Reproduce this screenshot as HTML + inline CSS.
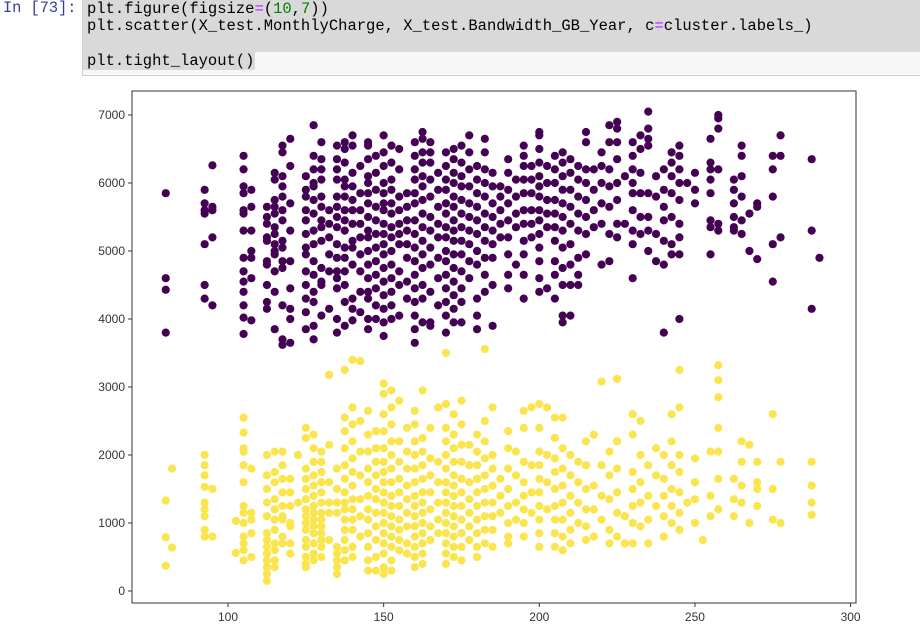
<!DOCTYPE html>
<html><head><meta charset="utf-8"><style>
body{margin:0;width:920px;height:625px;background:#fff;overflow:hidden;position:relative;font-family:"Liberation Sans",sans-serif}
.prompt{position:absolute;left:3px;top:0px;font:15.3px/17.3px "Liberation Mono",monospace;color:#303f9f}
.cell{position:absolute;left:82px;top:-1px;width:840px;height:77px;background:#f7f7f7;border:1px solid #cfcfcf;box-sizing:border-box}
.sel{position:absolute;background:#d9d9d9}
.code{position:absolute;left:87px;top:1px;font:15.5px/17.3px "Liberation Mono",monospace;color:#000;white-space:pre}
.g{color:#008000}.p{color:#aa22ff}
</style></head><body>
<div class="prompt">In [73]:</div>
<div class="cell"></div>
<div class="sel" style="left:83px;top:0;width:837px;height:52px"></div>
<div class="sel" style="left:83px;top:52px;width:172px;height:18px"></div>
<div class="code">plt.figure(figsize<span class="p">=</span>(<span class="g">10</span>,<span class="g">7</span>))
plt.scatter(X_test.MonthlyCharge, X_test.Bandwidth_GB_Year, c<span class="p">=</span>cluster.labels_)

plt.tight_layout()</div>
<svg id="chart" width="920" height="625" style="position:absolute;left:0;top:0"></svg>
<script>
const xTicks=[100,150,200,250,300];
const yTicks=[0,1000,2000,3000,4000,5000,6000,7000];
const purpleX=[80,92.5,95,105,107.5,112.5,115,117.5,120,125,127.5,130,132.5,135,137.5,140,142.5,145,147.5,150,152.5,155,157.5,160,162.5,165,167.5,170,172.5,175,177.5,180,182.5,185,187.5,190,192.5,195,197.5,200,202.5,205,207.5,210,212.5,215,217.5,220,222.5,225,227.5,230,232.5,235,237.5,240,242.5,245,247.5,250,255,257.5,262.5,265,267.5,270,275,277.5,287.5,290];
const purpleY=[[5850,4600,4430,3800],[5900,5700,5600,5100,4500,4300,5550],[6260,5650,5200,4200,5600],[6400,6200,5950,5850,5550,5300,4900,4700,4550,4400,4200,4020,3780,5600],[5900,5650,5300,5000,4600,3980,4900],[5650,5500,5400,5200,5150,4850,4800,4500,4250,4150],[6050,6150,5750,5650,5550,5350,5250,5100,4950,4700,4400,3850,5000],[6550,6450,6100,5950,5800,5600,5450,5150,5050,4850,4750,4200,3620,3700],[6650,6250,5700,5300,4850,4450,4150,3650,4000],[6100,5900,5800,5600,5450,5250,5050,4950,4700,4500,4300,4100,3850],[6850,6400,6200,6000,5950,5750,5550,5300,5100,4850,4650,4400,4250,3900,3700],[6600,6350,6200,6050,5800,5650,5450,5350,5150,4750,4550,4050,4500],[5400,5600,5200,4950,4700,4150],[6550,6350,6200,6050,5800,5650,5500,5350,5100,4900,4700,4600,4450,4000,3800],[6600,6500,6300,6050,5950,5800,5600,5450,5300,5050,4900,4700,4500,4250,3900],[6700,6550,6150,5950,5750,5600,5400,5150,5050,4800,4300,4150,3980],[6250,5850,5600,5400,5200,4950,4700,4400,4100],[6600,6550,6350,6100,6000,5850,5700,5500,5300,5200,5000,4800,4600,4400,4300,4000,3850],[6400,6150,5900,5650,5450,5250,5050,4850,4650,4450,4000,4200],[6700,6450,6250,6000,5850,5700,5600,5400,5250,5100,4950,4750,4550,4350,4150,3950,3750],[6550,6300,6050,5900,5700,5550,5350,5200,5000,4800,4600,4400,4200,4000],[6500,6200,5800,5600,5400,5250,5100,4700,4500,4050],[5850,5650,5450,5300,5100,4900,4550,4300],[6600,6400,6200,6050,5850,5700,5450,5250,5050,4850,4650,4450,4250,4050,3850,3650],[6750,6650,6450,6300,6100,5950,5750,5550,5350,5150,4950,4750,4500,4300,3950],[6600,6450,6300,6050,5800,5500,5300,5050,4800,4400,3900,3950],[6150,5900,5650,5400,5200,4900,4600,4200],[6450,6250,6050,5900,5700,5550,5350,5200,5000,4850,4650,4450,4250,4050,3800],[6500,6350,6150,6000,5800,5650,5450,5300,5150,4950,4750,4550,4350,4150,3950],[6550,6300,6100,5950,5750,5550,5350,5150,4950,4700,4450,4250,3950],[6700,6450,6200,5950,5700,5500,5300,5100,4850,4600],[6250,6050,5850,5650,5450,5250,5000,4800,4300,4050,3850],[6650,6450,6200,6000,5800,5550,5350,5150,4900,4650,4400],[6150,5950,5700,5500,5300,5100,4900,4500,3900],[5950,5800,5600,5400,5200],[6350,6150,5900,5700,5450,5200,4950,4650,4450],[6050,5800,5550,5350,4800],[6550,6400,6250,6050,5850,5600,5400,5150,4950,4650,4300],[6250,6050,5850,5600,5400,5200],[6750,6700,6500,6300,6100,5950,5800,5600,5450,5250,5050,4850,4600,4400],[6250,6000,5750,5550,5350,4450],[6400,6200,6000,5750,5550,5350,5150,4850,4650,4300],[6450,6300,6100,5900,5700,5500,5300,5050,4750,4500,4050,3950],[6350,6150,5900,5650,5400,5100,4800,4500,4050],[6250,6050,5800,5550,5300,4900,4650,4500],[6750,6600,6200,6000,5750,5500,5250,4950],[6200,5900,5600,5350],[6450,6250,6000,5700,5400,4800],[6850,6600,6200,5950,5650,5250,4850],[6900,6800,6600,6350,6000,5750,5400,5200],[6100,5400],[6600,6400,6200,6000,5850,5600,5300,5100,4600],[6700,6500,6150,5850,5500,5250],[7050,6800,6650,6550,5850,5500,5300,5000],[6100,5800,5250,4850],[6200,5900,5650,5450,5150,4800,3800],[6450,6300,6100,5850,5500,5100,4950],[6550,6400,6200,6000,5750,5400,5200,4950,4000],[6000],[6150,5900,5700],[6650,6300,6200,6050,5850,5450,5350,4950],[6950,7000,6800,6200,5300,5400],[6050,5900,5700,5500,5300,5350],[6550,6400,6100,5800,5450,5250],[5550,5000],[5650,5700,4880],[6400,6200,5800,5100,4550],[6700,6400,5200],[6350,5300,4150],[4900]];
const yellowX=[80,82,92.5,95,102.5,105,107.5,112.5,115,117.5,120,122.5,125,127.5,130,132.5,135,137.5,140,142.5,145,147.5,150,152.5,155,157.5,160,162.5,165,167.5,170,172.5,175,177.5,180,182.5,185,187.5,190,192.5,195,197.5,200,202.5,205,207.5,210,212.5,215,217.5,220,222.5,225,227.5,230,232.5,235,237.5,240,242.5,245,247.5,250,252.5,255,257.5,262.5,265,267.5,270,275,277.5,287.5];
const yellowY=[[1330,790,370],[1800,640],[2000,1850,1700,1530,1300,1200,1100,900,800],[1500,800],[1030,560],[2550,2330,2100,1850,1600,1250,1150,1000,800,700,600,450,2050],[1800,1150,1050,850,500],[2000,1700,1500,1300,1100,850,750,650,550,450,350,250,150],[2050,1750,1600,1350,1200,1050,900,700,600,450,350],[2050,1850,1650,1450,1250,1100,1050,800,700],[1650,1450,1250,1000,950,700,550],[2000,1300],[2400,2250,1800,1650,1500,1350,1200,1100,1000,900,750,650,500,400,350],[2300,2100,1900,1700,1550,1400,1250,1150,1050,950,850,700,550,450],[2050,1900,1750,1600,1450,1300,1150,1050,950,850,750,650,500],[3180,2150,1600,1300,1150,750],[1800,1500,1300,1150,650,550,450,350,250],[3250,2550,2350,2100,1850,1650,1450,1300,1200,1050,900,750,600,450],[3400,2700,2450,2200,1950,1750,1550,1350,1200,1050,900,650,500],[3380,2500,2050,1700,1350,1100,800],[2650,2300,2050,1800,1600,1400,1200,1050,850,650,450,300],[2350,2100,1900,1700,1500,1350,1150,950,750,500,300],[3050,2900,2600,2350,2100,1900,1750,1600,1450,1300,1150,1000,850,700,550,350,250],[2950,2700,2450,2200,2000,1800,1600,1400,1250,1100,950,800,650,450,300],[2800,2200,1900,1650,1450,1250,1050,900,750,600],[2400,2050,1800,1550,1350,1150,950,700,550],[2650,2450,2200,2000,1800,1600,1400,1250,1100,950,800,650,500,350],[2950,2250,2050,1850,1650,1450,1300,1150,1000,850,700,550,400],[2400,1950,1700,1450,1200,950,750],[2700,1900,1600,1300,1050,850],[3500,2750,2400,2200,2000,1800,1600,1450,1300,1150,1000,850,700,550,400],[2600,2300,2100,1900,1700,1550,1400,1250,1100,950,800,650,500],[2800,2450,2150,1900,1650,1450,1250,1050,850,650,450],[2150,1850,1600,1350,1150,950,750],[2300,2050,1850,1650,1450,1250,1050,850,650,500],[3560,2500,2200,1950,1700,1500,1300,1100,900,700],[2700,2000,1800,1550,1300,1100,900,650],[1650,1400,1150],[2350,2100,1800,1500,1250,1000,800,700],[2050,1700,1300,1050],[2650,2400,1900,1600,1400,1200,1000,800],[2700,1850,1450,1150],[2750,2400,2050,1850,1650,1450,1250,1050,850,650],[2700,2000,1600,1200],[2550,2250,1950,1750,1500,1250,1050,850,650],[2550,2100,1800,1550,1300,1050,800,600],[2000,1700,1400,1150,900,700],[1900,1600,1300,1000],[2200,1850,1500,1200,950,750],[2300,1550,1200,800],[3080,1850,1400,1050],[2050,1700,1350,900,700],[3120,2200,1800,1450,1150,800],[1100,700],[2600,2300,1750,1500,1250,1000,700],[2500,2000,1600,1300,950],[1850,1400,1050,700],[2100,1700,1250],[2000,1650,1400,1100,800],[2600,2200,1850,1500,1250,1000],[3250,2700,2000,1750,1450,1150,900],[1300],[1950,1600,1350,1000],[750],[2050,1400,1100],[3320,3100,2850,2400,2050,1650,1200],[1650,1350,1100],[2200,1900,1550,1300],[1000,2150],[1900,1600,1500,1250],[2600,1500,1050],[1900,1000],[1900,1550,1300,1120]];

const NS='http://www.w3.org/2000/svg';
const svg=document.getElementById('chart');
const L=132,R=856,T=91,B=603;
function sx(v){return 228+(v-100)*3.113;}
function sy(v){return 591-v*0.068;}
function mk(tag,attrs){const e=document.createElementNS(NS,tag);for(const k in attrs)e.setAttribute(k,attrs[k]);svg.appendChild(e);return e;}
function series(xs,ys,color,name){
  xs.forEach((x,i)=>{ys[i].forEach(y=>{
    const c=mk('circle',{cx:sx(x),cy:sy(y),r:4.1,fill:color});
    
    
  });});
}
series(purpleX,purpleY,'#440154','cluster-0-point');
series(yellowX,yellowY,'#fbe54e','cluster-1-point');
const frame=mk('rect',{x:L,y:T,width:R-L,height:B-T,fill:'none',stroke:'#333',"stroke-width":1});


xTicks.forEach(v=>{
  const t=mk('line',{x1:sx(v),x2:sx(v),y1:B,y2:B+4,stroke:'#333'});
  
  
  const l=mk('text',{x:sx(v),y:B+18,"text-anchor":"middle","font-size":"12","fill":"#333","font-family":"Liberation Sans, sans-serif"});
  l.textContent=v;
  
  
});
yTicks.forEach(v=>{
  const t=mk('line',{x1:L-4,x2:L,y1:sy(v),y2:sy(v),stroke:'#333'});
  
  
  const l=mk('text',{x:L-7,y:sy(v)+4,"text-anchor":"end","font-size":"12","fill":"#333","font-family":"Liberation Sans, sans-serif"});
  l.textContent=v;
  
  
});
</script>
</body></html>
